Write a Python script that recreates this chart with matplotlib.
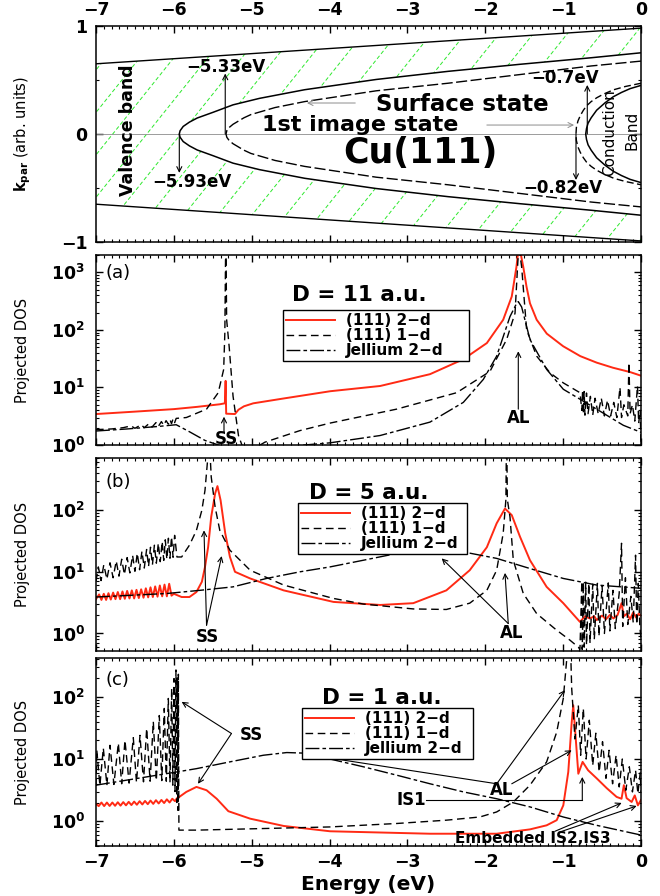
import numpy as np
import matplotlib
matplotlib.use("Agg")
import matplotlib.pyplot as plt
from matplotlib.patches import Polygon
from matplotlib.ticker import MultipleLocator, FixedLocator, LogLocator, NullFormatter

plt.rcParams['font.family'] = ['DejaVu Sans']
plt.rcParams['font.weight'] = 'bold'
plt.rcParams['mathtext.default'] = 'bf'
plt.rcParams['axes.linewidth'] = 1.1

RED = '#ff2a14'
GREEN = '#2ee82e'
DASH = (5.5, 3.3)
DASHDOT = (10, 2.2, 2.6, 2.2)
LABELS = ['(111) 2\u2212d', '(111) 1\u2212d', 'Jellium 2\u2212d']

# ---------------- top panel: schematic bands (energy in eV, k in arb. units)
outer_E = [-7.0, 0.0]
outer_top = [0.65, 0.98]
outer_bot = [-0.65, -0.99]

vb_E = [-5.93, -5.92, -5.88, -5.80, -5.70, -5.50, -5.24, -4.90, -4.32, -3.40, -2.48, -1.56, -0.64, 0.0]
vb_k = [0.0, 0.03, 0.07, 0.11, 0.148, 0.20, 0.27, 0.33, 0.41, 0.505, 0.58, 0.645, 0.706, 0.752]

ss_E = [-5.33, -5.32, -5.29, -5.24, -5.10, -5.01, -4.70, -4.32, -3.40, -2.48, -1.56, -0.64, 0.0]
ss_k = [0.0, 0.03, 0.06, 0.09, 0.15, 0.18, 0.245, 0.30, 0.40, 0.47, 0.55, 0.63, 0.675]

cb_E = [-0.71, -0.70, -0.68, -0.64, -0.57, -0.46, -0.356, -0.25, -0.14, 0.0]
cb_k = [0.0, 0.05, 0.10, 0.15, 0.22, 0.29, 0.345, 0.385, 0.42, 0.45]

is_E = [-0.835, -0.83, -0.81, -0.78, -0.74, -0.70, -0.64, -0.57, -0.48, -0.35, -0.20, 0.0]
is_k = [0.0, 0.06, 0.12, 0.17, 0.22, 0.26, 0.30, 0.335, 0.37, 0.41, 0.44, 0.47]

# ---------------- panel (a): D = 11 a.u.   (energy, projected DOS)
a_red = [(-7.0, 3.45), (-6.5, 3.8), (-6.0, 4.2), (-5.7, 4.6), (-5.41, 5.1), (-5.345, 5.3),
         (-5.335, 13.0), (-5.328, 3.5), (-5.215, 3.45), (-5.17, 4.1), (-5.1, 4.7), (-4.98, 5.3),
         (-4.6, 6.4), (-3.99, 8.6), (-3.35, 10.6), (-2.71, 17), (-2.28, 31), (-1.98, 59),
         (-1.77, 150), (-1.66, 380), (-1.6, 1240), (-1.567, 3000), (-1.512, 1240), (-1.47, 560),
         (-1.426, 290), (-1.34, 150), (-1.21, 86), (-1.0, 52), (-0.78, 35), (-0.57, 27),
         (-0.36, 22), (-0.14, 18.5), (0.0, 16)]
a_d1 = [(-7.0, 1.85), (-6.8, 1.9), (-6.65, 2.0), (-6.55, 2.15), (-6.5, 1.95), (-6.42, 2.25),
        (-6.38, 2.0), (-6.32, 2.35), (-6.28, 2.05), (-6.23, 2.45), (-6.2, 2.1), (-6.16, 2.55),
        (-6.13, 2.2), (-6.1, 2.65), (-6.07, 2.3), (-6.05, 2.75), (-6.03, 2.35), (-6.01, 2.85),
        (-5.99, 2.45), (-5.97, 2.9), (-5.84, 3.0), (-5.58, 4.2), (-5.43, 8.1), (-5.36, 20.6),
        (-5.345, 90), (-5.333, 5000), (-5.322, 150), (-5.29, 52), (-5.24, 7.1), (-5.17, 1.46),
        (-5.12, 0.95), (-4.95, 0.9), (-4.83, 1.12), (-4.38, 1.78), (-3.995, 2.4), (-3.138, 4.2),
        (-2.368, 8.1), (-1.94, 19), (-1.726, 68), (-1.618, 195), (-1.57, 3000), (-1.533, 1240),
        (-1.469, 100), (-1.34, 35), (-1.169, 18), (-0.998, 12), (-0.784, 8.1), (-0.76, 4.0),
        (-0.75, 9.0), (-0.74, 3.5), (-0.73, 8.5), (-0.72, 3.3), (-0.70, 8.0), (-0.68, 3.5),
        (-0.65, 7.0), (-0.62, 3.3), (-0.59, 6.5), (-0.55, 3.5), (-0.51, 6.5), (-0.47, 3.2),
        (-0.43, 6.0), (-0.39, 3.2), (-0.35, 5.5), (-0.31, 3.0), (-0.27, 10.0), (-0.25, 3.0),
        (-0.22, 5.0), (-0.17, 3.2), (-0.155, 27), (-0.14, 3.5), (-0.11, 5.0), (-0.08, 2.6),
        (-0.045, 10.6), (-0.03, 2.4), (-0.01, 4.0), (0.0, 1.0)]
a_jel = [(-7.0, 1.75), (-6.6, 1.9), (-6.2, 2.1), (-5.97, 2.25), (-5.8, 1.7), (-5.6, 1.2),
         (-5.4, 0.97), (-5.1, 0.9), (-4.6, 0.93), (-3.995, 1.09), (-3.352, 1.46), (-2.71, 2.5),
         (-2.282, 5.5), (-2.025, 13.8), (-1.854, 35), (-1.683, 170), (-1.597, 290), (-1.576, 310),
         (-1.533, 250), (-1.426, 68), (-1.212, 20.6), (-0.998, 9.3), (-0.57, 4.2), (-0.227, 2.2),
         (0.0, 1.66)]

# ---------------- panel (b): D = 5 a.u.
b_red = [(-7.0, 3.6), (-6.96, 4.3), (-6.93, 3.5), (-6.90, 4.4), (-6.87, 3.5), (-6.84, 4.5),
         (-6.81, 3.55), (-6.78, 4.6), (-6.75, 3.6), (-6.72, 4.7), (-6.69, 3.6), (-6.66, 4.8),
         (-6.63, 3.65), (-6.60, 4.9), (-6.57, 3.7), (-6.54, 5.0), (-6.51, 3.7), (-6.48, 5.1),
         (-6.45, 3.75), (-6.42, 5.2), (-6.39, 3.8), (-6.36, 5.4), (-6.33, 3.85), (-6.30, 5.6),
         (-6.27, 3.9), (-6.24, 5.8), (-6.21, 3.95), (-6.18, 6.0), (-6.15, 4.0), (-6.12, 6.2),
         (-6.09, 4.0), (-6.06, 6.4), (-6.03, 4.1), (-6.0, 4.4), (-5.9, 3.9), (-5.8, 3.9),
         (-5.71, 4.7), (-5.64, 6.9), (-5.6, 12), (-5.56, 25), (-5.52, 78), (-5.47, 186),
         (-5.44, 245), (-5.4, 145), (-5.34, 42), (-5.28, 17.5), (-5.215, 10), (-5.02, 7.8),
         (-4.59, 5.0), (-3.95, 3.25), (-3.35, 2.9), (-2.925, 3.1), (-2.5, 5.0), (-2.2, 10.6),
         (-1.98, 25), (-1.854, 61), (-1.747, 106), (-1.66, 83), (-1.554, 37), (-1.426, 15.4),
         (-1.212, 5.7), (-0.998, 3.1), (-0.784, 1.54), (-0.72, 1.9), (-0.656, 1.75), (-0.6, 1.9),
         (-0.57, 1.65), (-0.5, 1.95), (-0.45, 1.7), (-0.4, 2.0), (-0.355, 1.75), (-0.3, 2.0),
         (-0.25, 3.1), (-0.22, 1.9), (-0.18, 2.1), (-0.14, 1.7), (-0.1, 2.2), (-0.06, 1.8),
         (-0.03, 2.1), (0.0, 1.95)]
b_d1 = [(-7.0, 7.0), (-6.97, 12), (-6.935, 7.2), (-6.90, 13), (-6.86, 7.6), (-6.82, 14),
        (-6.78, 8.0), (-6.74, 15), (-6.705, 8.5), (-6.67, 16), (-6.635, 9.0), (-6.60, 17),
        (-6.565, 9.6), (-6.53, 18.5), (-6.50, 10.2), (-6.47, 20), (-6.44, 10.8), (-6.41, 21.5),
        (-6.38, 11.5), (-6.35, 23), (-6.325, 12.2), (-6.30, 25), (-6.275, 13), (-6.25, 27),
        (-6.225, 13.8), (-6.20, 29), (-6.175, 14.6), (-6.15, 31), (-6.13, 15.3), (-6.11, 33),
        (-6.09, 16), (-6.07, 35), (-6.05, 16.6), (-6.03, 37), (-6.01, 17.2), (-5.99, 39),
        (-5.96, 17.4), (-5.9, 17.4), (-5.8, 27), (-5.71, 47), (-5.64, 100), (-5.6, 210),
        (-5.57, 575), (-5.55, 2000), (-5.52, 345), (-5.47, 112), (-5.41, 47), (-5.28, 22.4),
        (-5.02, 10.6), (-4.59, 6.1), (-3.95, 3.7), (-3.566, 3.0), (-2.925, 2.5), (-2.5, 2.45),
        (-2.2, 3.1), (-1.98, 5.0), (-1.854, 10.6), (-1.77, 42), (-1.735, 150), (-1.726, 3000),
        (-1.717, 150), (-1.683, 78), (-1.64, 15.4), (-1.512, 4.45), (-1.34, 2.1), (-1.083, 1.13),
        (-0.913, 0.78), (-0.805, 0.6), (-0.784, 0.55), (-0.76, 7.0), (-0.755, 0.55), (-0.74, 6.8),
        (-0.73, 0.6), (-0.71, 6.8), (-0.70, 0.65), (-0.67, 6.5), (-0.655, 0.7), (-0.62, 6.3),
        (-0.60, 0.8), (-0.56, 6.5), (-0.54, 0.9), (-0.50, 6.0), (-0.47, 1.0), (-0.42, 6.6),
        (-0.40, 1.1), (-0.36, 5.0), (-0.33, 1.2), (-0.28, 4.5), (-0.25, 29), (-0.235, 1.3),
        (-0.20, 8.0), (-0.17, 1.4), (-0.13, 4.0), (-0.10, 1.5), (-0.07, 18.6), (-0.055, 1.4),
        (-0.035, 6.5), (-0.015, 1.3), (0.0, 0.8)]
b_jel = [(-7.0, 3.9), (-6.09, 4.45), (-5.67, 5.0), (-5.24, 5.7), (-4.81, 7.8), (-4.38, 10.0),
         (-3.995, 12.0), (-3.566, 15.4), (-3.138, 19.8), (-2.71, 22.4), (-2.28, 21),
         (-1.854, 16.5), (-1.426, 11.3), (-0.998, 7.8), (-0.57, 6.1), (0.0, 5.4)]

# ---------------- panel (c): D = 1 a.u.
c_red = [(-7.0, 1.9), (-6.965, 1.75), (-6.93, 2.0), (-6.895, 1.75), (-6.86, 2.0), (-6.825, 1.76),
         (-6.79, 2.0), (-6.755, 1.77), (-6.72, 2.02), (-6.685, 1.78), (-6.65, 2.03), (-6.615, 1.8),
         (-6.58, 2.05), (-6.545, 1.82), (-6.51, 2.07), (-6.475, 1.84), (-6.44, 2.1), (-6.405, 1.86),
         (-6.37, 2.12), (-6.335, 1.88), (-6.3, 2.15), (-6.265, 1.9), (-6.23, 2.18), (-6.195, 1.93),
         (-6.16, 2.2), (-6.125, 1.96), (-6.09, 2.25), (-6.055, 2.0), (-6.02, 2.3), (-5.985, 2.1),
         (-5.96, 2.35), (-5.93, 2.46), (-5.84, 2.96), (-5.71, 3.56), (-5.58, 3.15), (-5.45, 2.3),
         (-5.3, 1.45), (-5.02, 1.1), (-4.59, 0.84), (-3.995, 0.69), (-2.71, 0.63), (-1.854, 0.63),
         (-1.426, 0.74), (-1.212, 0.86), (-1.083, 1.04), (-0.998, 1.8), (-0.934, 6.2), (-0.89, 39),
         (-0.87, 73), (-0.835, 18.8), (-0.805, 5.8), (-0.75, 9.0), (-0.68, 6.6), (-0.57, 4.9),
         (-0.44, 3.4), (-0.313, 2.46), (-0.25, 2.3), (-0.22, 3.8), (-0.185, 2.35), (-0.12, 2.04),
         (-0.08, 2.6), (-0.04, 1.8), (0.0, 2.2)]
c_d1 = [(-7.0, 3.7), (-6.99, 14), (-6.95, 3.75), (-6.906, 15), (-6.86, 3.8), (-6.82, 16.6),
        (-6.77, 3.9), (-6.713, 18), (-6.67, 4.0), (-6.628, 20), (-6.575, 4.1), (-6.521, 22),
        (-6.48, 4.2), (-6.435, 24), (-6.39, 4.3), (-6.349, 31), (-6.305, 4.4), (-6.264, 40),
        (-6.225, 4.5), (-6.187, 50), (-6.155, 4.5), (-6.123, 65), (-6.097, 4.4), (-6.071, 94),
        (-6.05, 4.2), (-6.028, 136), (-6.013, 3.8), (-5.998, 196), (-5.985, 3.0), (-5.973, 270),
        (-5.963, 2.0), (-5.955, 200), (-5.948, 1.5), (-5.942, 230), (-5.935, 0.72), (-5.7, 0.72),
        (-3.995, 0.81), (-3.138, 0.92), (-2.5, 1.04), (-2.07, 1.17), (-1.854, 1.41), (-1.64, 2.04),
        (-1.426, 3.8), (-1.212, 9.0), (-1.083, 27), (-0.998, 94), (-0.947, 500), (-0.92, 3000),
        (-0.89, 136), (-0.848, 21), (-0.805, 73), (-0.775, 11.5), (-0.741, 65), (-0.705, 10),
        (-0.664, 42), (-0.62, 7.9), (-0.58, 26), (-0.537, 6.2), (-0.494, 19), (-0.45, 4.9),
        (-0.41, 13.8), (-0.365, 4.0), (-0.32, 11.5), (-0.28, 3.56), (-0.24, 10), (-0.195, 3.15),
        (-0.15, 7.5), (-0.11, 2.96), (-0.07, 6.6), (-0.04, 2.8), (-0.01, 6.0), (0.0, 2.96)]
c_jel = [(-7.0, 3.8), (-5.96, 6.2), (-5.71, 7.0), (-5.28, 9.0), (-4.85, 11.5), (-4.55, 12.7),
         (-4.21, 12.3), (-3.995, 10.0), (-3.566, 7.5), (-3.138, 5.5), (-2.71, 4.0), (-2.28, 2.96),
         (-1.854, 2.3), (-1.426, 1.7), (-0.998, 1.17), (-0.57, 0.86), (0.0, 0.6)]


def xy(pairs):
    arr = np.array(pairs, dtype=float)
    return arr[:, 0], arr[:, 1]


def arrow(ax, start, end, color='k', lw=0.8):
    ax.annotate('', xy=end, xytext=start,
                arrowprops=dict(arrowstyle='->', color=color, lw=lw,
                                shrinkA=0, shrinkB=0, mutation_scale=9))


fig = plt.figure(figsize=(6.6, 8.96), dpi=100)
L, W = 0.14545, 0.82576
ax0 = fig.add_axes([L, 0.72991, W, 0.24107])
axa = fig.add_axes([L, 0.50335, W, 0.21205])
axb = fig.add_axes([L, 0.27344, W, 0.21540])
axc = fig.add_axes([L, 0.05580, W, 0.20982])

# ---------------- top panel
vb_E_a, vb_k_a = np.array(vb_E), np.array(vb_k)
verts = ([(outer_E[0], outer_top[0]), (outer_E[1], outer_top[1])]
         + list(zip(vb_E_a[::-1], vb_k_a[::-1]))
         + list(zip(vb_E_a[1:], -vb_k_a[1:]))
         + [(outer_E[1], outer_bot[1]), (outer_E[0], outer_bot[0])])
region = Polygon(verts, closed=True, facecolor='none', edgecolor='none')
ax0.add_patch(region)
slope = 0.9
for c in np.arange(-4.6 - 0.437 * 10, 1.6, 0.437):
    ln, = ax0.plot([-7.5, 0.5], [slope * (-7.5 - c), slope * (0.5 - c)],
                   color=GREEN, lw=0.7, dashes=(4, 2.5))
    ln.set_clip_path(region)

ax0.axhline(0, color='0.55', lw=0.6)
ax0.plot(outer_E, outer_top, color='k', lw=1.0)
ax0.plot(outer_E, outer_bot, color='k', lw=1.0)
ax0.plot(np.concatenate([vb_E_a[::-1], vb_E_a[1:]]),
         np.concatenate([vb_k_a[::-1], -vb_k_a[1:]]), color='k', lw=1.1)
ss_E_a, ss_k_a = np.array(ss_E), np.array(ss_k)
ax0.plot(np.concatenate([ss_E_a[::-1], ss_E_a[1:]]),
         np.concatenate([ss_k_a[::-1], -ss_k_a[1:]]), color='k', lw=1.0, dashes=(8, 2.5))
cb_E_a, cb_k_a = np.array(cb_E), np.array(cb_k)
ax0.plot(np.concatenate([cb_E_a[::-1], cb_E_a[1:]]),
         np.concatenate([cb_k_a[::-1], -cb_k_a[1:]]), color='k', lw=1.1)
is_E_a, is_k_a = np.array(is_E), np.array(is_k)
ax0.plot(np.concatenate([is_E_a[::-1], is_E_a[1:]]),
         np.concatenate([is_k_a[::-1], -is_k_a[1:]]), color='k', lw=1.0, dashes=(5, 2.5))

arrow(ax0, (-5.34, 0.0), (-5.34, 0.56))
arrow(ax0, (-5.93, 0.0), (-5.93, -0.36))
arrow(ax0, (-0.69, 0.0), (-0.69, 0.454))
arrow(ax0, (-0.835, 0.0), (-0.835, -0.426))
arrow(ax0, (-3.67, 0.287), (-4.29, 0.287), color='0.55', lw=0.7)
arrow(ax0, (-1.98, 0.083), (-0.86, 0.083), color='0.55', lw=0.7)

ax0.text(-6.59, 0.037, 'Valence band', rotation=90, ha='center', va='center', fontsize=12.5)
ax0.text(-5.33, 0.62, '\u22125.33eV', ha='center', va='center', fontsize=12)
ax0.text(-5.77, -0.444, '\u22125.93eV', ha='center', va='center', fontsize=12)
ax0.text(-2.30, 0.27, 'Surface state', ha='center', va='center', fontsize=16.5)
ax0.text(-3.61, 0.083, '1st image state', ha='center', va='center', fontsize=16)
ax0.text(-2.83, -0.176, 'Cu(111)', ha='center', va='center', fontsize=25)
ax0.text(-0.977, 0.52, '\u22120.7eV', ha='center', va='center', fontsize=12)
ax0.text(-1.0, -0.50, '\u22120.82eV', ha='center', va='center', fontsize=12)
ax0.text(-0.40, 0.01, 'Conduction', rotation=90, ha='center', va='center',
         fontsize=11, fontweight='normal')
ax0.text(-0.116, 0.03, 'Band', rotation=90, ha='center', va='center',
         fontsize=11, fontweight='normal')

ax0.set_xlim(-7, 0)
ax0.set_ylim(-1, 1)
ax0.xaxis.set_major_locator(MultipleLocator(1))
ax0.xaxis.set_minor_locator(MultipleLocator(0.1))
ax0.yaxis.set_major_locator(FixedLocator([-1, 0, 1]))
ax0.yaxis.set_minor_locator(FixedLocator([-0.5, 0.5]))
ax0.tick_params(which='both', direction='in', top=True, right=True,
                labeltop=True, labelbottom=False, labelsize=12.5)
ax0.tick_params(which='major', length=5, width=1.0)
ax0.tick_params(which='minor', length=2.5, width=0.8)
ax0.tick_params(axis='y', pad=6)
ax0.tick_params(axis='x', pad=5)
ax0.set_ylabel(r'$\mathrm{k_{par}}$ (arb. units)', fontsize=10.5, fontweight='normal')
ax0.yaxis.set_label_coords(-0.116, 0.5)

# ---------------- DOS panels
panels = [
    (axa, a_red, a_d1, a_jel, (1.0, 2000), '(a)', 0.905, 'D = 11 a.u.', (0.484, 0.79),
     (0.343, 0.342, 0.71)),
    (axb, b_red, b_d1, b_jel, (0.52, 700), '(b)', 0.877, 'D = 5 a.u.', (0.501, 0.819),
     (0.371, 0.310, 0.767)),
    (axc, c_red, c_d1, c_jel, (0.4, 420), '(c)', 0.883, 'D = 1 a.u.', (0.524, 0.787),
     (0.378, 0.314, 0.734)),
]
for ax, red, d1, jel, ylim, tag, tag_y, title, title_xy, legbox in panels:
    h1, = ax.plot(*xy(red), color=RED, lw=1.4)
    h2, = ax.plot(*xy(d1), color='k', lw=1.0, dashes=DASH)
    h3, = ax.plot(*xy(jel), color='k', lw=1.0, dashes=DASHDOT)
    ax.set_yscale('log')
    ax.set_xlim(-7, 0)
    ax.set_ylim(*ylim)
    ax.xaxis.set_major_locator(MultipleLocator(1))
    ax.xaxis.set_minor_locator(MultipleLocator(0.1))
    ax.yaxis.set_major_locator(LogLocator(10))
    ax.yaxis.set_minor_locator(LogLocator(10, subs=np.arange(2, 10)))
    ax.yaxis.set_minor_formatter(NullFormatter())
    ax.tick_params(which='both', direction='in', top=True, right=True, labelsize=12.5)
    ax.tick_params(which='major', length=5, width=1.0)
    ax.tick_params(which='minor', length=2.5, width=0.8)
    ax.tick_params(axis='y', pad=8)
    ax.tick_params(axis='x', pad=5)
    ax.set_ylabel('Projected DOS', fontsize=10.5, fontweight='normal')
    ax.yaxis.set_label_coords(-0.121, 0.5)
    ax.text(0.018, tag_y, tag, transform=ax.transAxes, ha='left', va='center',
            fontsize=13, fontweight='normal')
    ax.text(title_xy[0], title_xy[1], title, transform=ax.transAxes,
            ha='center', va='center', fontsize=15.5)
    x0, w, top = legbox
    leg = ax.legend([h1, h2, h3], LABELS, loc='upper left', bbox_to_anchor=(x0, 0, w, top),
                    mode='expand', fancybox=False, edgecolor='k', framealpha=1,
                    fontsize=11, handlelength=3.2, handletextpad=0.7, labelspacing=0.0,
                    borderpad=0.2, borderaxespad=0)
    leg.get_frame().set_linewidth(1.0)

axa.tick_params(labelbottom=False)
axb.tick_params(labelbottom=False)
axc.set_xlabel('Energy (eV)', fontsize=14.5, fontweight='bold', labelpad=3)

# annotations (a)
axa.text(-5.32, 1.26, 'SS', ha='center', va='center', fontsize=12)
arrow(axa, (-5.356, 1.66), (-5.356, 3.1))
axa.text(-1.567, 3.0, 'AL', ha='center', va='center', fontsize=12)
arrow(axa, (-1.576, 4.2), (-1.576, 42.5))

# annotations (b)
axb.text(-5.57, 0.88, 'SS', ha='center', va='center', fontsize=12)
arrow(axb, (-5.58, 1.36), (-5.613, 47))
arrow(axb, (-5.58, 1.36), (-5.386, 18))
axb.text(-1.66, 1.02, 'AL', ha='center', va='center', fontsize=12)
arrow(axb, (-1.705, 1.45), (-2.56, 16.5))
arrow(axb, (-1.705, 1.45), (-1.747, 9.6))

# annotations (c)
axc.text(-5.0, 24, 'SS', ha='center', va='center', fontsize=12)
arrow(axc, (-5.26, 25.7), (-5.9, 83))
arrow(axc, (-5.26, 25.7), (-5.69, 4.0))
axc.text(-1.79, 3.15, 'AL', ha='center', va='center', fontsize=12)
arrow(axc, (-1.853, 4.0), (-4.23, 11.5))
arrow(axc, (-1.853, 4.0), (-0.977, 128))
arrow(axc, (-1.66, 4.0), (-0.89, 13.8))
axc.text(-2.945, 2.18, 'IS1', ha='center', va='center', fontsize=12)
axc.plot([-2.76, -0.754], [2.18, 2.18], color='k', lw=0.8)
arrow(axc, (-0.754, 2.18), (-0.754, 5.15))
axc.text(-1.384, 0.53, 'Embedded IS2,IS3', ha='center', va='center', fontsize=11)
arrow(axc, (-1.105, 0.69), (-0.248, 1.97))
arrow(axc, (-1.06, 0.66), (-0.056, 1.76))

fig.savefig('out.png', dpi=100)
